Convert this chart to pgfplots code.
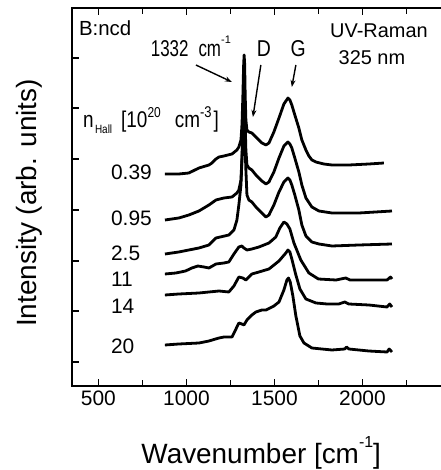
\documentclass[border=0pt]{standalone}
\usepackage{fontspec}
\setmainfont{Liberation Sans}
\usepackage{pgfplots}
\usepackage{pgfplotstable}
\pgfplotsset{compat=1.18}
\usetikzlibrary{arrows.meta}
\newcommand{\fs}[1]{\fontsize{#1}{#1}\selectfont}
\newcommand{\up}[3]{\raisebox{#2}{\fs{#1}#3}}
\pgfplotstableread{
x y
878 212
957 212
1014 213
1071 218
1128 221
1145 223
1168 227
1185 229
1213 230
1259 232
1287 236
1298 239
1310 246
1316 262
1321 291
1325 320
1328 331
1331 322
1334 291
1338 266
1344 256
1355 254
1372 253
1395 249
1429 243
1452 241
1469 243
1497 254
1526 268
1554 282
1577 288
1588 286
1599 281
1616 271
1639 258
1656 246
1679 236
1696 230
1713 226
1736 224
1781 222
1827 221
1923 221
2037 222
2122 223
}\tA
\pgfplotstableread{
x y
878 166
957 168
1014 171
1071 175
1128 181
1168 186
1213 188
1259 189
1287 193
1298 196
1310 206
1316 230
1321 262
1325 285
1328 292
1331 284
1334 262
1338 236
1344 221
1355 218
1372 216
1395 211
1429 205
1452 202
1469 204
1497 214
1526 228
1554 240
1577 244
1588 242
1599 238
1616 228
1639 214
1656 201
1679 188
1713 179
1753 175
1827 173
1980 173
2168 175
}\tB
\pgfplotstableread{
x y
878 132
957 134
1014 136
1071 138
1128 141
1168 148
1241 151
1270 156
1287 166
1298 181
1310 201
1316 228
1321 250
1325 258
1328 260
1331 252
1334 236
1338 216
1344 191
1355 186
1372 184
1395 179
1429 173
1452 169
1469 171
1497 181
1526 194
1554 204
1577 208
1588 206
1599 201
1616 191
1639 176
1656 161
1679 150
1713 144
1753 142
1827 140
1980 141
2168 142
}\tC
\pgfplotstableread{
x y
878 112
940 113
995 115
1031 118
1065 120
1100 119
1128 118
1168 122
1213 123
1241 124
1270 132
1298 139
1315 140
1327 138
1344 136
1372 137
1412 139
1469 143
1508 149
1531 158
1554 164
1571 162
1588 157
1611 143
1650 126
1696 113
1750 107
1850 106
1905 108
1930 106
2037 106
2140 106
2160 109
2168 107
}\tD
\pgfplotstableread{
x y
878 91
957 92
1071 93
1128 94
1185 95
1241 94
1270 100
1298 109
1321 108
1338 106
1372 112
1412 114
1469 117
1526 125
1565 133
1577 136
1588 134
1599 127
1622 111
1645 97
1679 87
1736 83
1800 82
1866 82
1900 84
1923 82
2037 81
2140 79
2155 82
2168 79
}\tE
\pgfplotstableread{
x y
878 41
957 42
1071 43
1128 45
1185 48
1213 49
1259 49
1276 55
1298 63
1315 62
1327 61
1344 66
1372 71
1395 74
1429 76
1452 76
1497 80
1526 84
1554 96
1571 106
1580 108
1590 104
1605 90
1622 70
1645 50
1668 43
1713 38
1827 36
1900 37
1910 39
1923 37
2037 35
2140 34
2152 37
2168 34
}\tF
\begin{document}
\begin{tikzpicture}
\begin{axis}[
  name=ax,
  scale only axis,
  width=378.4bp, height=378bp,
  xmin=350, xmax=2500, ymin=0, ymax=378,
  xtick={500,1000,1500,2000},
  xticklabels={500,1000,1500,2000},
  minor xtick={750,1250,1750,2250},
  ytick={24,75,125,176,227,278,328},
  yticklabels={},
  xtick pos=both, xticklabel pos=lower,
  ytick pos=left,
  tick align=inside,
  major tick length=7bp, minor tick length=6bp,
  tick style={line width=1.5bp, black},
  axis line style={line width=1.6bp},
  /pgf/number format/assume math mode=true,
  ticklabel style={font=\fs{21}},
  xticklabel style={yshift=-1bp},
  xlabel={Wavenumber [cm\up{16}{16bp}{-1}]},
  ylabel={Intensity (arb. units)},
  xlabel style={font=\fs{28}, at={(axis description cs:0.5,0)}, anchor=base, yshift=-77bp},
  ylabel style={font=\fs{28}, at={(axis description cs:0,0.5)}, anchor=base, yshift=35bp, xshift=-6bp},
  clip=false,
]
\addplot[black, line width=2.8bp, line join=round] table[x=x,y=y] {\tA};
\addplot[black, line width=2.8bp, line join=round] table[x=x,y=y] {\tB};
\addplot[black, line width=2.8bp, line join=round] table[x=x,y=y] {\tC};
\addplot[black, line width=2.8bp, line join=round] table[x=x,y=y] {\tD};
\addplot[black, line width=2.8bp, line join=round] table[x=x,y=y] {\tE};
\addplot[black, line width=2.8bp, line join=round] table[x=x,y=y] {\tF};
\node[anchor=base west, font=\fs{20.5}, inner sep=0pt] at (axis cs:389,350) {B:ncd};
\node[anchor=base, font=\fs{20}, inner sep=0pt] at (axis cs:2094,348) {UV-Raman};
\node[anchor=base, font=\fs{20}, inner sep=0pt] at (axis cs:2054,321) {325 nm};
\node[anchor=base west, inner sep=0pt] at (axis cs:797,329) {\scalebox{1}[1.35]{\fs{17}1332\hspace{10bp}cm}\up{11}{13bp}{-1}};
\node[anchor=base, inner sep=0pt] at (axis cs:1440,329) {\scalebox{1}[1.18]{\fs{19.5}D}};
\node[anchor=base, inner sep=0pt] at (axis cs:1635,329) {\scalebox{1}[1.18]{\fs{19.5}G}};
\node[anchor=base west, inner sep=0pt] at (axis cs:412,258) {\scalebox{1}[1.2]{\fs{19}n\hspace{1.4bp}\up{10}{-4.2bp}{Hall}\hspace{9bp}[10\up{12}{8.8bp}{20}\hspace{14bp}cm\up{13}{8.8bp}{-3}\hspace{2bp}]}};
\node[anchor=base west, font=\fs{21}, inner sep=0pt] at (axis cs:571,206) {0.39};
\node[anchor=base west, font=\fs{21}, inner sep=0pt] at (axis cs:571,160) {0.95};
\node[anchor=base west, font=\fs{21}, inner sep=0pt] at (axis cs:571,125) {2.5};
\node[anchor=base west, font=\fs{21}, inner sep=0pt] at (axis cs:571,99) {11};
\node[anchor=base west, font=\fs{21}, inner sep=0pt] at (axis cs:571,73) {14};
\node[anchor=base west, font=\fs{21}, inner sep=0pt] at (axis cs:571,33) {20};
\draw[line width=1.4bp, -{Stealth[length=7bp,width=5bp]}] (axis cs:1054,321) -- (axis cs:1259,304);
\draw[line width=1.4bp, -{Stealth[length=7bp,width=5bp]}] (axis cs:1423,321) -- (axis cs:1378,269);
\draw[line width=1.4bp, -{Stealth[length=7bp,width=5bp]}] (axis cs:1622,321) -- (axis cs:1599,299);
\end{axis}
\pgfresetboundingbox
\path[use as bounding box] (ax.south west) ++(-72bp,-84bp) rectangle ++(441bp,470bp);
\end{tikzpicture}
\end{document}
